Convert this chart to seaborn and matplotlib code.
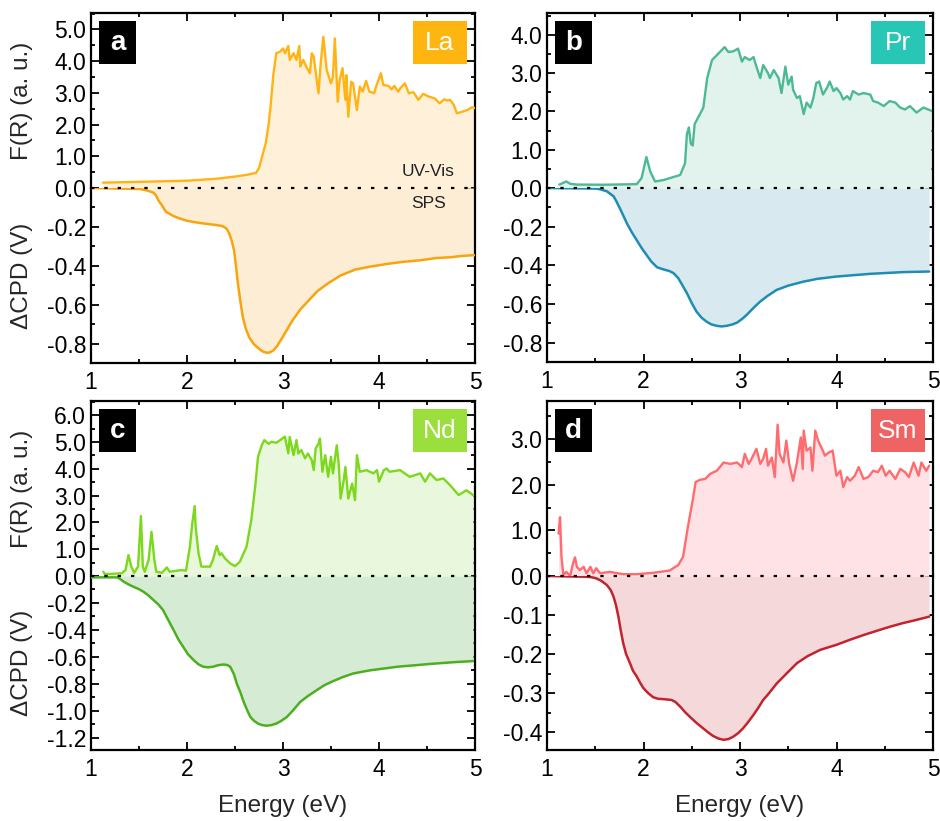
import numpy as np
import pandas as pd
import matplotlib
matplotlib.use("Agg")
import matplotlib.pyplot as plt
from matplotlib.ticker import MultipleLocator, FormatStrFormatter
from matplotlib.patches import Rectangle
import seaborn as sns

sns.set_theme(style="ticks")
plt.rcParams["font.family"] = ["Liberation Sans", "DejaVu Sans"]
plt.rcParams["axes.unicode_minus"] = False

# ---------------- La ----------------
la_fr_e = [1.125, 1.3, 1.6, 2.0, 2.3, 2.5, 2.65, 2.72, 2.75, 2.82, 2.85, 2.87, 2.9, 2.93, 2.97,
           3.0, 3.02, 3.055, 3.07, 3.11, 3.14, 3.17, 3.18, 3.21, 3.25, 3.28, 3.30, 3.32, 3.34,
           3.37, 3.39, 3.42, 3.455, 3.50, 3.52, 3.54, 3.57, 3.59, 3.62, 3.65, 3.66, 3.68, 3.71,
           3.73, 3.77, 3.80, 3.83, 3.865, 3.90, 3.95, 3.97, 4.02, 4.045, 4.10, 4.13, 4.16, 4.20,
           4.22, 4.27, 4.31, 4.36, 4.41, 4.46, 4.52, 4.58, 4.63, 4.68, 4.71, 4.74, 4.78, 4.81,
           4.86, 4.92, 4.97, 5.0]
la_fr_v = [0.17, 0.18, 0.2, 0.23, 0.29, 0.36, 0.43, 0.48, 0.63, 1.41, 2.0, 2.56, 3.6, 4.25, 4.30,
           4.40, 4.25, 4.48, 4.04, 4.25, 4.04, 4.48, 3.83, 4.04, 3.78, 3.62, 4.25, 4.14, 3.67,
           2.99, 3.83, 4.77, 3.72, 3.30, 3.51, 4.72, 2.72, 3.41, 3.78, 2.78, 3.56, 2.25, 3.35,
           3.30, 2.46, 3.20, 3.04, 3.38, 3.04, 2.99, 3.20, 3.62, 3.25, 3.22, 3.11, 3.22, 3.04,
           3.14, 3.30, 2.99, 3.02, 2.78, 2.97, 2.88, 2.83, 2.67, 2.80, 2.76, 2.78, 2.62, 2.36,
           2.40, 2.46, 2.55, 2.52]
la_cpd_e = [1.0, 1.51, 1.58, 1.65, 1.68, 1.70, 1.74, 1.78, 1.85, 1.92, 1.99, 2.06, 2.15, 2.23,
            2.30, 2.37, 2.41, 2.44, 2.465, 2.49, 2.51, 2.53, 2.555, 2.58, 2.61, 2.65, 2.70, 2.77,
            2.80, 2.83, 2.86, 2.90, 2.94, 2.98, 3.04, 3.10, 3.18, 3.27, 3.36, 3.47, 3.60, 3.75,
            3.90, 4.09, 4.25, 4.44, 4.60, 4.75, 4.85, 5.0]
la_cpd_v = [0.0, -0.005, -0.012, -0.024, -0.04, -0.062, -0.09, -0.122, -0.142, -0.156, -0.167,
            -0.174, -0.181, -0.186, -0.19, -0.196, -0.208, -0.234, -0.27, -0.32, -0.40, -0.49,
            -0.58, -0.66, -0.72, -0.77, -0.805, -0.835, -0.843, -0.847, -0.846, -0.835, -0.812,
            -0.78, -0.73, -0.68, -0.625, -0.577, -0.53, -0.49, -0.45, -0.42, -0.405, -0.39,
            -0.38, -0.371, -0.36, -0.356, -0.35, -0.345]

# ---------------- Pr ----------------
pr_fr_e = [1.128, 1.20, 1.24, 1.31, 1.58, 1.93, 1.98, 2.03, 2.07, 2.12, 2.21, 2.38, 2.43, 2.45,
           2.47, 2.49, 2.51, 2.53, 2.585, 2.62, 2.66, 2.71, 2.76, 2.81, 2.84, 2.88, 2.93, 2.98,
           3.02, 3.05, 3.10, 3.14, 3.17, 3.21, 3.24, 3.29, 3.31, 3.35, 3.40, 3.43, 3.47, 3.50,
           3.535, 3.55, 3.59, 3.62, 3.66, 3.69, 3.73, 3.76, 3.79, 3.82, 3.86, 3.90, 3.93, 3.97,
           4.00, 4.04, 4.07, 4.11, 4.14, 4.17, 4.23, 4.28, 4.35, 4.38, 4.43, 4.49, 4.55, 4.61,
           4.66, 4.71, 4.76, 4.83, 4.90, 4.95, 4.98]
pr_fr_v = [0.09, 0.17, 0.11, 0.09, 0.085, 0.10, 0.26, 0.81, 0.43, 0.17, 0.21, 0.34, 0.64, 1.41,
           1.58, 1.16, 1.11, 1.67, 1.93, 2.10, 2.87, 3.34, 3.47, 3.60, 3.68, 3.55, 3.57, 3.64,
           3.30, 3.42, 3.34, 3.42, 3.17, 2.87, 3.21, 3.00, 2.87, 3.08, 2.87, 2.48, 3.17, 2.70,
           2.91, 2.57, 2.35, 2.40, 1.93, 2.23, 2.10, 2.35, 2.74, 2.78, 2.44, 2.61, 2.78, 2.53,
           2.61, 2.48, 2.31, 2.40, 2.31, 2.53, 2.44, 2.48, 2.44, 2.27, 2.23, 2.14, 2.27, 2.23,
           2.10, 2.05, 2.14, 1.97, 2.10, 2.05, 2.02]
pr_cpd_e = [1.0, 1.51, 1.56, 1.62, 1.69, 1.72, 1.76, 1.83, 1.88, 1.93, 1.98, 2.03, 2.08, 2.14,
            2.20, 2.27, 2.31, 2.36, 2.40, 2.45, 2.50, 2.55, 2.60, 2.65, 2.70, 2.76, 2.81, 2.86,
            2.92, 2.97, 3.02, 3.07, 3.14, 3.21, 3.28, 3.38, 3.50, 3.66, 3.80, 4.00, 4.20, 4.35,
            4.50, 4.69, 4.96]
pr_cpd_v = [0.0, -0.003, -0.008, -0.017, -0.043, -0.07, -0.11, -0.185, -0.23, -0.27, -0.31,
            -0.345, -0.38, -0.41, -0.42, -0.43, -0.44, -0.466, -0.50, -0.544, -0.595, -0.64,
            -0.67, -0.69, -0.705, -0.713, -0.716, -0.713, -0.706, -0.696, -0.678, -0.656, -0.62,
            -0.587, -0.56, -0.527, -0.505, -0.484, -0.47, -0.458, -0.45, -0.444, -0.44, -0.435,
            -0.432]

# ---------------- Nd ----------------
nd_fr_e = [1.128, 1.146, 1.32, 1.36, 1.39, 1.42, 1.45, 1.49, 1.52, 1.54, 1.56, 1.60, 1.63, 1.66,
           1.68, 1.74, 1.79, 1.82, 1.94, 1.99, 2.03, 2.055, 2.08, 2.09, 2.12, 2.15, 2.24, 2.27,
           2.31, 2.34, 2.36, 2.395, 2.45, 2.50, 2.55, 2.62, 2.67, 2.71, 2.74, 2.78, 2.805, 2.85,
           2.88, 2.93, 2.97, 3.02, 3.055, 3.07, 3.11, 3.14, 3.16, 3.19, 3.23, 3.26, 3.30, 3.32,
           3.34, 3.37, 3.385, 3.41, 3.44, 3.47, 3.50, 3.52, 3.56, 3.58, 3.60, 3.63, 3.65, 3.68,
           3.72, 3.75, 3.77, 3.80, 3.87, 3.94, 3.98, 4.00, 4.05, 4.08, 4.11, 4.22, 4.32, 4.43,
           4.48, 4.53, 4.60, 4.67, 4.74, 4.83, 4.91, 4.98]
nd_fr_v = [0.16, 0.07, 0.10, 0.22, 0.78, 0.35, 0.12, 0.35, 2.24, 0.35, 0.16, 0.60, 1.65, 0.60,
           0.16, 0.12, 0.32, 0.16, 0.22, 0.20, 1.09, 1.97, 2.61, 1.84, 0.85, 0.35, 0.35, 0.60,
           1.12, 0.78, 0.85, 0.66, 0.47, 0.37, 0.53, 1.09, 2.09, 3.33, 4.45, 4.89, 5.07, 4.93,
           5.01, 4.97, 5.07, 5.20, 4.58, 5.19, 4.51, 5.07, 4.57, 4.70, 4.39, 4.57, 4.32, 3.95,
           4.76, 4.94, 5.13, 3.89, 4.51, 3.70, 4.45, 3.83, 4.88, 4.20, 2.89, 3.52, 4.07, 2.89,
           3.45, 2.83, 4.51, 3.89, 3.95, 3.83, 3.95, 3.52, 3.95, 4.01, 3.89, 3.95, 3.70, 3.83,
           3.52, 3.83, 3.58, 3.64, 3.39, 3.02, 3.20, 3.02]
nd_cpd_e = [1.0, 1.27, 1.30, 1.34, 1.39, 1.44, 1.50, 1.545, 1.60, 1.65, 1.70, 1.75, 1.80, 1.86,
            1.91, 1.96, 2.01, 2.07, 2.12, 2.17, 2.22, 2.27, 2.32, 2.38, 2.42, 2.45, 2.49, 2.52,
            2.56, 2.59, 2.63, 2.66, 2.70, 2.74, 2.78, 2.83, 2.88, 2.93, 2.98, 3.04, 3.10, 3.18,
            3.26, 3.35, 3.43, 3.52, 3.62, 3.73, 3.90, 4.05, 4.20, 4.39, 4.55, 4.74, 4.85, 4.98]
nd_cpd_v = [-0.01, -0.01, -0.02, -0.042, -0.062, -0.079, -0.098, -0.116, -0.145, -0.178, -0.21,
            -0.252, -0.32, -0.40, -0.47, -0.525, -0.58, -0.624, -0.655, -0.673, -0.677, -0.673,
            -0.662, -0.656, -0.660, -0.673, -0.73, -0.80, -0.87, -0.933, -1.0, -1.045, -1.075,
            -1.094, -1.105, -1.11, -1.105, -1.094, -1.075, -1.045, -1.0, -0.933, -0.89, -0.847,
            -0.81, -0.78, -0.75, -0.723, -0.70, -0.686, -0.672, -0.661, -0.651, -0.641, -0.636,
            -0.631]

# ---------------- Sm ----------------
sm_fr_e = [1.12, 1.135, 1.15, 1.17, 1.20, 1.24, 1.27, 1.29, 1.31, 1.34, 1.38, 1.41, 1.45, 1.48,
           1.51, 1.55, 1.65, 1.79, 1.93, 2.10, 2.27, 2.36, 2.41, 2.46, 2.51, 2.54, 2.585, 2.64,
           2.69, 2.76, 2.83, 2.90, 2.97, 3.02, 3.05, 3.09, 3.12, 3.17, 3.21, 3.24, 3.27, 3.29,
           3.33, 3.36, 3.39, 3.41, 3.45, 3.48, 3.51, 3.55, 3.59, 3.63, 3.65, 3.66, 3.69, 3.73,
           3.75, 3.78, 3.81, 3.85, 3.88, 3.92, 3.96, 4.00, 4.04, 4.07, 4.11, 4.14, 4.19, 4.23,
           4.28, 4.33, 4.38, 4.43, 4.47, 4.51, 4.55, 4.61, 4.66, 4.71, 4.75, 4.80, 4.85, 4.88,
           4.93, 4.96]
sm_fr_v = [0.93, 1.29, 0.42, 0.02, 0.09, 0.0, 0.28, 0.41, 0.20, 0.13, 0.20, 0.06, 0.20, 0.06,
           0.17, 0.06, 0.09, 0.04, 0.04, 0.07, 0.12, 0.24, 0.42, 1.08, 1.66, 2.06, 2.11, 2.13,
           2.24, 2.31, 2.49, 2.46, 2.49, 2.39, 2.68, 2.46, 2.57, 2.79, 2.46, 2.57, 2.79, 2.42,
           2.60, 2.17, 3.32, 2.68, 2.49, 2.97, 2.46, 2.09, 2.49, 3.04, 2.35, 3.19, 2.75, 2.82,
           2.31, 3.19, 2.97, 2.79, 2.64, 2.71, 2.75, 2.20, 2.31, 1.95, 2.17, 2.09, 2.20, 2.39,
           2.13, 2.17, 2.31, 2.28, 2.42, 2.20, 2.31, 2.13, 2.35, 2.28, 2.17, 2.49, 2.20, 2.49,
           2.31, 2.42]
sm_cpd_e = [1.0, 1.41, 1.46, 1.51, 1.56, 1.62, 1.66, 1.69, 1.715, 1.74, 1.765, 1.79, 1.82, 1.86,
            1.89, 1.93, 1.965, 2.00, 2.05, 2.10, 2.15, 2.21, 2.25, 2.29, 2.33, 2.38, 2.43, 2.48,
            2.55, 2.62, 2.67, 2.72, 2.78, 2.83, 2.88, 2.93, 2.98, 3.03, 3.08, 3.14, 3.19, 3.24,
            3.30, 3.38, 3.48, 3.59, 3.70, 3.83, 3.92, 4.00, 4.14, 4.28, 4.42, 4.55, 4.68, 4.80,
            4.96]
sm_cpd_v = [0.0, -0.002, -0.003, -0.006, -0.012, -0.023, -0.036, -0.053, -0.075, -0.104, -0.14,
            -0.172, -0.2, -0.223, -0.242, -0.257, -0.273, -0.287, -0.30, -0.310, -0.314, -0.315,
            -0.316, -0.317, -0.322, -0.334, -0.348, -0.360, -0.376, -0.390, -0.400, -0.409,
            -0.416, -0.419, -0.417, -0.411, -0.402, -0.390, -0.375, -0.355, -0.337, -0.317,
            -0.300, -0.275, -0.25, -0.223, -0.205, -0.189, -0.182, -0.176, -0.163, -0.151,
            -0.14, -0.130, -0.121, -0.114, -0.104]

panels = [
    dict(letter="a", name="La", fr=(la_fr_e, la_fr_v), cpd=(la_cpd_e, la_cpd_v),
         fr_top=5.52, fr_step=1.0, cpd_bot=-0.9, cpd_step=0.2,
         c_fr="#FFB414", f_fr="#FFF1D9", c_cpd="#F9A40E", f_cpd="#FDEDD4", box="#FFB50F",
         rect=(91, 475, 13, 188, 363)),
    dict(letter="b", name="Pr", fr=(pr_fr_e, pr_fr_v), cpd=(pr_cpd_e, pr_cpd_v),
         fr_top=4.57, fr_step=1.0, cpd_bot=-0.9, cpd_step=0.2,
         c_fr="#4DB994", f_fr="#E2F3EE", c_cpd="#1E8DB4", f_cpd="#D8E9F0", box="#27C6B5",
         rect=(547, 933, 13, 188, 362)),
    dict(letter="c", name="Nd", fr=(nd_fr_e, nd_fr_v), cpd=(nd_cpd_e, nd_cpd_v),
         fr_top=6.53, fr_step=1.0, cpd_bot=-1.29, cpd_step=0.2,
         c_fr="#7CD81A", f_fr="#E9F8DC", c_cpd="#4CAF1F", f_cpd="#D5EBD3", box="#9BDF3C",
         rect=(91, 475, 401, 576, 750)),
    dict(letter="d", name="Sm", fr=(sm_fr_e, sm_fr_v), cpd=(sm_cpd_e, sm_cpd_v),
         fr_top=3.84, fr_step=1.0, cpd_bot=-0.445, cpd_step=0.1,
         c_fr="#FF6B6E", f_fr="#FFE2E5", c_cpd="#C3232F", f_cpd="#F4D8DA", box="#EE6363",
         rect=(547, 933, 401, 576, 750)),
]

W, H = 940, 821
fig = plt.figure(figsize=(W / 100, H / 100), dpi=100)
TICK_FS = 16.5
LABEL_FS = 17.5
LW_SPINE = 1.6


def style_axis(ax):
    ax.tick_params(which="both", direction="in", top=True, right=True, width=1.3,
                   labelsize=TICK_FS, color="black", labelcolor="black")
    ax.tick_params(which="major", length=6)
    ax.tick_params(which="minor", length=3)
    ax.xaxis.set_major_locator(MultipleLocator(1))
    ax.xaxis.set_minor_locator(MultipleLocator(0.5))
    for s in ax.spines.values():
        s.set_linewidth(LW_SPINE)
        s.set_color("black")
    ax.set_facecolor("none")
    ax.grid(False)


for i, p in enumerate(panels):
    x0, x1, ytop, yzero, ybot = p["rect"]
    left = x0 / W
    width = (x1 - x0) / W
    ax_up = fig.add_axes([left, 1 - yzero / H, width, (yzero - ytop) / H])
    ax_lo = fig.add_axes([left, 1 - ybot / H, width, (ybot - yzero) / H])

    fr = pd.DataFrame({"Energy": p["fr"][0], "F": p["fr"][1]})
    cpd = pd.DataFrame({"Energy": p["cpd"][0], "CPD": p["cpd"][1]})

    ax_up.fill_between(fr["Energy"], 0, fr["F"], color=p["f_fr"], lw=0, zorder=1)
    sns.lineplot(data=fr, x="Energy", y="F", ax=ax_up, color=p["c_fr"], lw=1.7,
                 estimator=None, sort=False, zorder=3)
    ax_lo.fill_between(cpd["Energy"], 0, cpd["CPD"], color=p["f_cpd"], lw=0, zorder=1)
    sns.lineplot(data=cpd, x="Energy", y="CPD", ax=ax_lo, color=p["c_cpd"], lw=1.8,
                 estimator=None, sort=False, zorder=3)

    for ax in (ax_up, ax_lo):
        style_axis(ax)
        ax.set_xlim(1, 5)
        ax.set_xlabel("")
        ax.set_ylabel("")

    ax_up.set_ylim(0, p["fr_top"])
    ax_up.yaxis.set_major_locator(MultipleLocator(p["fr_step"]))
    ax_up.yaxis.set_minor_locator(MultipleLocator(p["fr_step"] / 2))
    ax_up.yaxis.set_major_formatter(FormatStrFormatter("%.1f"))
    ax_up.spines["bottom"].set_visible(False)
    ax_up.tick_params(axis="x", which="both", bottom=False, labelbottom=False)

    ax_lo.set_ylim(p["cpd_bot"], 0)
    lo_ticks = np.arange(-p["cpd_step"], p["cpd_bot"] - 1e-9, -p["cpd_step"])
    ax_lo.set_yticks(lo_ticks)
    ax_lo.yaxis.set_minor_locator(MultipleLocator(p["cpd_step"] / 2))
    ax_lo.yaxis.set_major_formatter(FormatStrFormatter("%.1f"))
    ax_lo.spines["top"].set_visible(False)
    ax_lo.tick_params(axis="x", which="both", top=False)
    ax_lo.tick_params(axis="x", which="major", pad=6)

    # zero baseline between the two spectra
    ax_lo.axhline(0, color="black", lw=1.6, ls=(0, (1.5, 4.5)), zorder=4, clip_on=False)

    # panel letter and element tag
    bx0, by0 = 8 / (x1 - x0), 1 - 51 / (yzero - ytop)
    ax_up.add_patch(Rectangle((bx0, by0), 37 / (x1 - x0), 43 / (yzero - ytop),
                              transform=ax_up.transAxes, facecolor="black", lw=0,
                              zorder=6, clip_on=False))
    ax_up.text(bx0 + 18.5 / (x1 - x0), by0 + 21.5 / (yzero - ytop), p["letter"],
               transform=ax_up.transAxes, color="white", fontsize=20, fontweight="bold",
               ha="center", va="center", zorder=7)
    ex0 = 1 - 62 / (x1 - x0)
    ax_up.add_patch(Rectangle((ex0, by0), 54 / (x1 - x0), 43 / (yzero - ytop),
                              transform=ax_up.transAxes, facecolor=p["box"], lw=0,
                              zorder=6, clip_on=False))
    ax_up.text(ex0 + 27 / (x1 - x0), by0 + 21.5 / (yzero - ytop), p["name"],
               transform=ax_up.transAxes, color="white", fontsize=19,
               ha="center", va="center", zorder=7)

    if i % 2 == 0:
        ax_up.set_ylabel("F(R) (a. u.)", fontsize=LABEL_FS)
        ax_lo.set_ylabel("\u0394CPD (V)", fontsize=LABEL_FS)
        ax_up.yaxis.set_label_coords(-0.15, 0.5)
        ax_lo.yaxis.set_label_coords(-0.15, 0.5)
    if i >= 2:
        ax_lo.set_xlabel("Energy (eV)", fontsize=LABEL_FS, labelpad=10)

    if i == 0:
        ax_up.text(0.878, 0.097, "UV-Vis", transform=ax_up.transAxes, fontsize=12.5,
                   ha="center", va="center", color="#222222")
        ax_lo.text(0.878, 0.914, "SPS", transform=ax_lo.transAxes,
                   fontsize=12.5, ha="center", va="center", color="#222222")

fig.savefig("out.png", dpi=100)
